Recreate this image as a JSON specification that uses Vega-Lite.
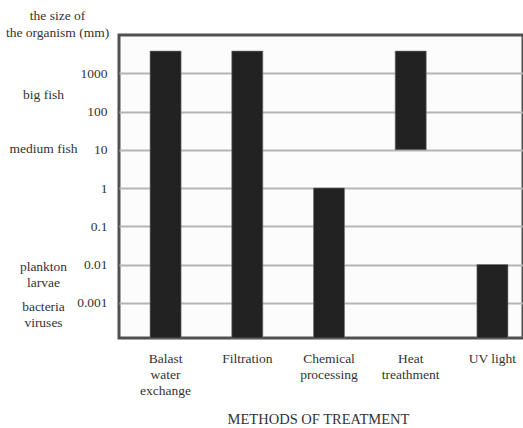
{
  "$schema": "https://vega.github.io/schema/vega-lite/v6.json",
  "autosize": {"type": "none"},
  "padding": {"left": 119, "top": 35, "right": 0, "bottom": 90},
  "width": 404,
  "height": 303,
  "background": "white",
  "config": {
    "font": "Liberation Serif",
    "view": {"stroke": "#505050", "strokeWidth": 3, "fill": "#fcfcfc"}
  },
  "layer": [
    {
      "data": {
        "values": [
          {"method": "Balast water exchange", "low": 0.0001, "high": 3800},
          {"method": "Filtration", "low": 0.0001, "high": 3800},
          {"method": "Chemical processing", "low": 0.0001, "high": 1},
          {"method": "Heat treathment", "low": 10, "high": 3800},
          {"method": "UV light", "low": 0.0001, "high": 0.01}
        ]
      },
      "mark": {"type": "bar", "color": "#222222", "stroke": "#777777", "strokeWidth": 0.6},
      "encoding": {
        "x": {
          "field": "method",
          "type": "nominal",
          "sort": null,
          "scale": {"type": "band", "range": [0, 420], "paddingInner": 0.62, "paddingOuter": 0.38},
          "axis": {
            "orient": "bottom",
            "domain": false,
            "ticks": false,
            "labelAngle": 0,
            "labelFontSize": 13.5,
            "labelColor": "#333333",
            "labelBaseline": "top",
            "labelPadding": 13,
            "labelLineHeight": 16,
            "labelExpr": "datum.value == 'UV light' ? 'UV light' : split(datum.value, ' ')",
            "labelLimit": 200,
            "title": "METHODS OF TREATMENT",
            "titleFontSize": 14.5,
            "titleFontWeight": "normal",
            "titleColor": "#333333",
            "titleBaseline": "top",
            "titleAlign": "center",
            "titleX": 199,
            "titleY": 74
          }
        },
        "y": {
          "field": "high",
          "type": "quantitative",
          "scale": {"type": "log", "domain": [0.00012, 10000], "nice": false, "clamp": true},
          "axis": {
            "orient": "left",
            "values": [1000, 100, 10, 1, 0.1, 0.01, 0.001],
            "format": "~g",
            "domain": false,
            "ticks": false,
            "labelPadding": 12,
            "labelFontSize": 13.5,
            "labelColor": "#333333",
            "labelBaseline": "middle",
            "grid": true,
            "gridColor": "#b5b5b5",
            "gridWidth": 2,
            "title": ["the size of", "the organism (mm)"],
            "titleAngle": 0,
            "titleAlign": "center",
            "titleBaseline": "alphabetic",
            "titleX": -62,
            "titleY": -16,
            "titleFontSize": 13.5,
            "titleFontWeight": "normal",
            "titleColor": "#333333",
            "titleLineHeight": 17
          }
        },
        "y2": {"field": "low"}
      }
    },
    {
      "data": {
        "values": [
          {"organism": "big fish", "size": 280},
          {"organism": "medium fish", "size": 11},
          {"organism": "plankton larvae", "size": 0.009},
          {"organism": "bacteria viruses", "size": 0.0008}
        ]
      },
      "mark": {"type": "point", "opacity": 0},
      "encoding": {
        "y": {
          "field": "size",
          "type": "quantitative",
          "scale": {"type": "log", "domain": [0.00012, 10000], "nice": false, "clamp": true},
          "axis": {
            "orient": "left",
            "offset": 76,
            "values": [280, 11, 0.009, 0.0008],
            "labelExpr": "datum.value == 280 ? 'big fish' : datum.value == 11 ? 'medium fish' : datum.value == 0.009 ? ['plankton', 'larvae'] : ['bacteria', 'viruses']",
            "domain": false,
            "ticks": false,
            "grid": false,
            "labelAlign": "center",
            "labelBaseline": "middle",
            "labelPadding": 0,
            "labelFontSize": 13.5,
            "labelColor": "#333333",
            "labelLineHeight": 16,
            "title": null
          }
        }
      }
    }
  ],
  "resolve": {"scale": {"y": "independent"}}
}
